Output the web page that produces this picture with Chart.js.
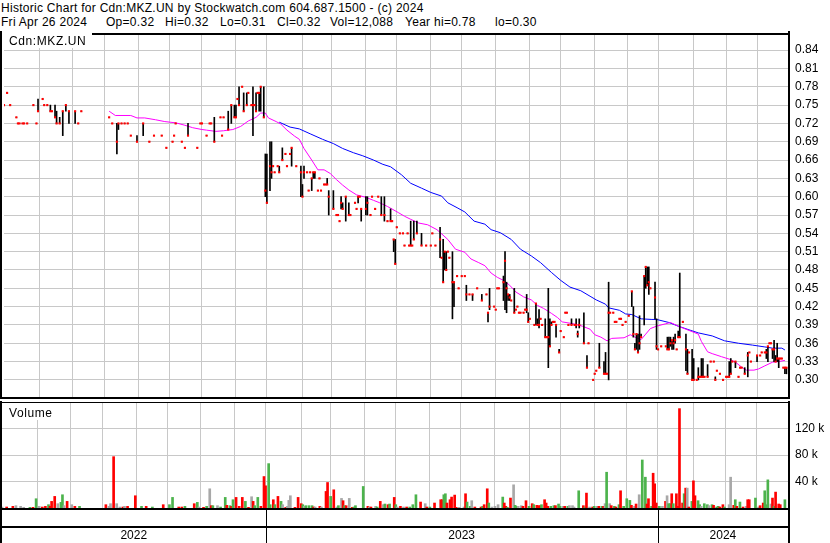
<!DOCTYPE html>
<html>
<head>
<meta charset="utf-8">
<script src="https://cdn.jsdelivr.net/npm/chart.js@4.4.1/dist/chart.umd.min.js"></script>
<style>
  body { margin: 0; background: #fff; }
  #wrap { position: relative; width: 830px; height: 543px; overflow: hidden;
          font-family: "Liberation Sans", Arial, sans-serif; font-size: 12px; color: #000; }
  .t { position: absolute; line-height: 14px; white-space: pre; letter-spacing: 0.28px; }
  canvas { position: absolute; left: 0; }
  #priceChart { top: 31px; width: 830px; height: 370px; }
  #volumeChart { top: 401px; width: 830px; height: 142px; }
  .box { position: absolute; background: #fff; }
  .lbl { position: absolute; line-height: 15px; white-space: pre; letter-spacing: 0.6px; }
</style>
</head>
<body>
<div id="wrap">
  <div class="t" style="left:1px;top:1px">Historic Chart for Cdn:MKZ.UN by Stockwatch.com 604.687.1500 - (c) 2024</div>
  <div class="t" style="left:1px;top:15px">Fri Apr 26 2024</div>
  <div class="t" style="left:106px;top:15px">Op=0.32</div>
  <div class="t" style="left:165px;top:15px">Hi=0.32</div>
  <div class="t" style="left:220px;top:15px">Lo=0.31</div>
  <div class="t" style="left:277px;top:15px">Cl=0.32</div>
  <div class="t" style="left:330px;top:15px">Vol=12,088</div>
  <div class="t" style="left:405px;top:15px">Year hi=0.78</div>
  <div class="t" style="left:495px;top:15px">lo=0.30</div>
  <canvas id="priceChart" width="830" height="370"></canvas>
  <canvas id="volumeChart" width="830" height="142"></canvas>
  <div class="box" style="left:2px;top:33px;width:90px;height:15px"></div>
  <div class="lbl" style="left:9px;top:34px">Cdn:MKZ.UN</div>
  <div class="box" style="left:2px;top:403px;width:58px;height:17px"></div>
  <div class="lbl" style="left:9px;top:406px">Volume</div>
</div>
<script>
// x positions are trading-day indexes, day 0 = first session shown (early May 2022)
const DAY_MAX = 507;
const monthStarts = [23, 44, 65, 87, 107, 128, 150, 170, 193, 212, 234, 254, 276, 296, 318, 340, 360, 382, 403, 423, 446, 467, 487];
const yearStarts = [0, 170, 423];
const yearLabels = ['2022', '2023', '2024'];

const priceTicks = [0.30, 0.33, 0.36, 0.39, 0.42, 0.45, 0.48, 0.51, 0.54, 0.57, 0.60, 0.63, 0.66, 0.69, 0.72, 0.75, 0.78, 0.81, 0.84];
const volTicks = [40, 80, 120];

// daily bars (high / low / close); single-price days have high = low = close
const barDay = [
  0, 2, 4, 8, 9, 10, 12, 13, 15, 19,
  21, 22, 25, 26, 28, 30, 31, 33, 34, 36,
  38, 40, 42, 46, 48, 50, 68, 70, 73, 74,
  76, 78, 80, 82, 86, 90, 94, 97, 102, 105,
  109, 110, 111, 115, 117, 119, 125, 127, 128, 131,
  133, 134, 136, 140, 141, 142, 145, 147, 149, 150,
  151, 152, 154, 155, 157, 158, 160, 161, 162, 163,
  164, 165, 166, 168, 169, 170, 172, 173, 174, 175,
  177, 178, 180, 182, 183, 185, 186, 189, 192, 193,
  194, 196, 197, 198, 199, 200, 201, 203, 204, 205,
  207, 208, 209, 210, 213, 215, 216, 217, 218, 219,
  221, 223, 224, 227, 228, 229, 230, 231, 234, 235,
  237, 238, 240, 242, 244, 246, 248, 250, 251, 252,
  253, 254, 256, 258, 259, 261, 262, 263, 264, 265,
  267, 270, 273, 276, 277, 279, 282, 283, 284, 285,
  286, 287, 288, 290, 291, 293, 294, 296, 298, 299,
  301, 303, 306, 309, 312, 313, 314, 317, 318, 319,
  320, 323, 324, 325, 326, 327, 328, 330, 331, 332,
  333, 334, 336, 337, 338, 339, 340, 343, 344, 345,
  346, 347, 348, 350, 351, 352, 353, 354, 355, 356,
  357, 359, 360, 362, 363, 364, 365, 367, 369, 370,
  371, 372, 375, 377, 378, 381, 382, 383, 385, 388,
  389, 390, 391, 392, 394, 395, 396, 398, 399, 400,
  402, 404, 406, 407, 408, 409, 410, 411, 412, 414,
  415, 416, 417, 418, 421, 422, 423, 425, 428, 429,
  430, 431, 432, 433, 434, 435, 436, 437, 439, 441,
  442, 443, 445, 446, 448, 449, 450, 451, 452, 453,
  455, 457, 459, 460, 461, 463, 465, 467, 468, 469,
  470, 471, 473, 475, 476, 477, 479, 481, 482, 483,
  487, 489, 490, 492, 493, 494, 495, 496, 497, 498,
  499, 500, 501, 502, 503, 504, 505, 506
];
const barHigh = [
  .75, .77, .75, .73, .72, .72, .72, .72, .72, .75,
  .72, .76, .76, .75, .75, .75, .74, .75, .74, .73,
  .74, .75, .74, .74, .72, .74, .73, .72, .72, .72,
  .72, .72, .72, .70, .70, .72, .69, .70, .70, .68,
  .69, .70, .72, .69, .68, .72, .68, .72, .72, .70,
  .72, .72, .73, .73, .70, .73, .74, .75, .75, .75,
  .76, .78, .78, .77, .77, .77, .75, .78, .75, .77,
  .77, .77, .78, .78, .67, .67, .69, .69, .65, .64,
  .65, .65, .68, .67, .65, .67, .68, .65, .65, .62,
  .65, .64, .61, .64, .63, .64, .64, .61, .63, .61,
  .62, .62, .63, .61, .61, .57, .57, .56, .60, .59,
  .60, .59, .57, .59, .58, .60, .60, .58, .60, .60,
  .57, .60, .58, .60, .60, .60, .56, .58, .56, .53,
  .53, .55, .54, .54, .52, .54, .52, .56, .52, .56,
  .56, .54, .52, .52, .54, .52, .55, .50, .53, .51,
  .51, .51, .50, .51, .46, .47, .45, .47, .47, .455,
  .44, .44, .45, .44, .44, .41, .45, .42, .415, .45,
  .45, .47, .51, .46, .44, .44, .43, .45, .415, .42,
  .41, .41, .41, .415, .44, .41, .40, .39, .425, .40,
  .415, .40, .39, .40, .37, .45, .40, .395, .395, .395,
  .39, .35, .38, .37, .41, .41, .39, .40, .39, .40,
  .38, .40, .41, .34, .36, .30, .31, .315, .36, .33,
  .345, .31, .46, .41, .41, .395, .395, .40, .40, .39,
  .395, .405, .445, .42, .36, .375, .375, .405, .375, .47,
  .485, .485, .485, .45, .46, .40, .35, .355, .355, .37,
  .37, .37, .365, .37, .375, .35, .38, .475, .395, .375,
  .35, .345, .35, .335, .30, .32, .305, .335, .335, .305,
  .325, .33, .33, .305, .315, .31, .30, .305, .305, .33,
  .335, .33, .33, .305, .32, .32, .32, .345, .345, .33,
  .34, .34, .345, .345, .35, .355, .36, .36, .35, .365,
  .34, .36, .335, .335, .335, .32, .32, .32
];
const barLow = [
  .75, .77, .75, .73, .72, .72, .72, .72, .72, .75,
  .72, .74, .76, .75, .75, .74, .74, .73, .72, .72,
  .70, .74, .72, .72, .72, .74, .73, .72, .67, .71,
  .72, .72, .72, .70, .69, .70, .69, .70, .70, .68,
  .69, .70, .72, .69, .68, .70, .68, .72, .72, .70,
  .72, .72, .69, .73, .70, .73, .71, .72, .73, .73,
  .76, .75, .78, .74, .75, .77, .75, .70, .75, .74,
  .77, .74, .74, .73, .60, .59, .61, .63, .65, .64,
  .65, .64, .66, .67, .65, .67, .65, .65, .60, .60,
  .63, .64, .61, .64, .61, .63, .63, .61, .63, .61,
  .62, .62, .62, .57, .58, .57, .57, .56, .58, .58,
  .56, .57, .57, .59, .58, .59, .60, .56, .57, .57,
  .57, .60, .58, .60, .57, .56, .56, .56, .56, .51,
  .49, .55, .54, .54, .52, .54, .52, .52, .52, .53,
  .54, .52, .52, .52, .54, .52, .50, .50, .46, .48,
  .48, .51, .50, .40, .42, .47, .45, .47, .47, .43,
  .44, .43, .45, .43, .44, .395, .415, .42, .415, .45,
  .45, .43, .415, .41, .43, .43, .43, .41, .415, .42,
  .41, .41, .41, .415, .41, .395, .40, .39, .39, .39,
  .385, .40, .39, .37, .37, .32, .355, .39, .395, .395,
  .37, .345, .38, .37, .41, .41, .39, .39, .39, .385,
  .37, .385, .36, .32, .36, .30, .31, .315, .32, .31,
  .31, .31, .30, .41, .41, .395, .395, .40, .40, .39,
  .395, .405, .42, .37, .35, .35, .345, .35, .37, .39,
  .45, .455, .44, .45, .40, .35, .35, .355, .355, .35,
  .35, .355, .35, .35, .36, .35, .37, .37, .395, .315,
  .31, .345, .30, .30, .30, .30, .305, .305, .305, .305,
  .305, .33, .33, .30, .315, .31, .30, .305, .305, .305,
  .31, .33, .32, .305, .32, .32, .31, .305, .345, .33,
  .33, .34, .345, .345, .335, .33, .36, .36, .335, .33,
  .33, .33, .32, .335, .335, .32, .31, .31
];
const barClose = [
  .75, .77, .75, .73, .72, .72, .72, .72, .72, .75,
  .72, .74, .76, .75, .75, .74, .74, .73, .72, .72,
  .74, .75, .74, .74, .72, .74, .73, .72, .69, .72,
  .72, .72, .72, .70, .69, .72, .69, .70, .70, .68,
  .69, .70, .72, .69, .68, .70, .68, .72, .72, .70,
  .72, .72, .69, .73, .70, .73, .71, .75, .73, .73,
  .76, .75, .78, .74, .75, .77, .75, .75, .75, .74,
  .77, .77, .78, .73, .61, .59, .65, .64, .65, .64,
  .65, .64, .66, .67, .65, .67, .68, .65, .64, .60,
  .64, .64, .61, .64, .63, .64, .64, .61, .63, .61,
  .62, .62, .62, .60, .58, .57, .57, .56, .59, .58,
  .60, .57, .57, .59, .58, .60, .60, .58, .58, .59,
  .57, .60, .58, .60, .57, .57, .56, .56, .56, .53,
  .49, .55, .54, .54, .52, .54, .52, .52, .52, .53,
  .54, .52, .52, .52, .54, .52, .53, .50, .46, .51,
  .48, .51, .50, .46, .46, .47, .45, .47, .47, .44,
  .44, .44, .45, .43, .44, .41, .42, .42, .415, .45,
  .45, .46, .495, .45, .44, .435, .43, .41, .415, .42,
  .41, .41, .41, .415, .415, .395, .40, .39, .425, .39,
  .39, .40, .39, .37, .37, .37, .355, .39, .395, .395,
  .39, .345, .38, .37, .41, .41, .39, .39, .39, .39,
  .375, .39, .36, .32, .36, .30, .31, .315, .32, .31,
  .31, .31, .41, .41, .41, .395, .395, .40, .40, .39,
  .395, .405, .445, .375, .35, .375, .345, .36, .37, .47,
  .485, .455, .46, .45, .435, .355, .35, .355, .355, .35,
  .35, .36, .365, .36, .365, .35, .37, .37, .395, .35,
  .31, .345, .30, .30, .30, .305, .305, .305, .305, .305,
  .305, .33, .33, .30, .315, .31, .30, .305, .305, .305,
  .31, .33, .33, .305, .32, .32, .31, .34, .345, .33,
  .34, .34, .345, .345, .345, .355, .36, .36, .35, .35,
  .33, .335, .335, .335, .335, .32, .32, .32
];

// moving averages
const shortMaDay = [68, 72, 82, 86, 91, 98, 104, 111, 117, 122, 128, 131, 137, 142, 148, 153, 158, 163, 166, 169,
  171, 176, 179, 183, 188, 191, 194, 199, 203, 207, 211, 215, 219, 223, 228, 234, 239, 243, 248, 255,
  259, 263, 268, 274, 280, 287, 292, 298, 302, 307, 311, 315, 319, 323, 327, 331, 336, 341, 345, 349,
  354, 358, 361, 368, 374, 379, 382, 386, 390, 393, 401, 405, 408, 412, 415, 418, 422, 428, 431, 436,
  441, 445, 449, 451, 455, 458, 464, 469, 473, 477, 480, 485, 488, 492, 497, 501, 505];
const shortMa = [.740, .733, .733, .729, .729, .726, .723, .721, .717, .713, .710, .709, .707, .708, .710, .715, .724, .730, .737, .737,
  .729, .723, .719, .709, .699, .694, .679, .660, .644, .644, .638, .628, .619, .611, .603, .599, .594, .590, .584, .574,
  .568, .563, .557, .554, .546, .530, .514, .509, .498, .492, .487, .475, .468, .463, .455, .444, .436, .431, .422, .417,
  .409, .402, .395, .392, .388, .383, .374, .370, .364, .368, .369, .374, .370, .366, .375, .384, .388, .392, .394, .388,
  .383, .379, .375, .363, .346, .343, .338, .334, .329, .321, .316, .316, .318, .323, .329, .330, .332];
const longMaDay = [178, 185, 191, 198, 206, 213, 219, 226, 232, 239, 245, 250, 257, 263, 270, 276, 283, 287, 293, 298,
  304, 311, 315, 321, 328, 334, 341, 347, 354, 360, 366, 373, 379, 383, 389, 391, 398, 402, 406, 412,
  419, 422, 430, 436, 443, 449, 458, 466, 475, 484, 492, 497, 503, 505];
const longMa = [.722, .714, .711, .703, .694, .687, .679, .672, .667, .660, .653, .649, .636, .622, .614, .607, .601, .590, .582, .575,
  .560, .555, .546, .541, .530, .514, .503, .492, .476, .463, .452, .446, .437, .431, .424, .418, .414, .408, .407, .400,
  .399, .399, .394, .388, .382, .377, .372, .364, .360, .357, .354, .352, .352, .349];

// volume in thousands; r = down day, g = up day, n = unchanged
const volDay = [
  0, 3, 7, 9, 12, 14, 18, 20, 22, 24, 26, 28, 30, 31, 32, 34, 36, 38, 39, 40,
  42, 45, 47, 50, 67, 69, 70, 72, 74, 76, 78, 79, 81, 86, 90, 93, 97, 104, 108, 110,
  114, 116, 118, 124, 126, 127, 130, 132, 134, 135, 136, 139, 141, 144, 145, 147, 148, 149, 151, 153,
  155, 157, 159, 161, 162, 163, 165, 167, 169, 170, 172, 173, 175, 176, 178, 180, 181, 183, 184, 185,
  186, 189, 191, 193, 194, 195, 196, 198, 200, 201, 202, 205, 206, 209, 210, 212, 214, 216, 217, 219,
  220, 221, 222, 224, 226, 227, 228, 233, 236, 237, 238, 241, 242, 244, 246, 247, 249, 250, 253, 254,
  255, 257, 259, 261, 263, 265, 267, 270, 273, 274, 276, 279, 283, 284, 285, 286, 287, 289, 290, 292,
  293, 295, 298, 299, 300, 302, 303, 305, 309, 310, 311, 313, 314, 316, 318, 320, 323, 324, 325, 326,
  328, 330, 331, 332, 333, 335, 336, 338, 340, 342, 343, 345, 346, 347, 348, 350, 351, 352, 354, 356,
  357, 359, 360, 362, 363, 365, 366, 368, 369, 372, 375, 376, 377, 379, 381, 382, 384, 385, 387, 388,
  389, 390, 392, 393, 395, 396, 398, 399, 401, 403, 405, 406, 408, 409, 411, 413, 415, 416, 417, 419,
  420, 421, 422, 424, 426, 428, 429, 430, 431, 432, 433, 435, 436, 437, 439, 440, 441, 442, 443, 445,
  446, 447, 449, 450, 451, 453, 455, 456, 458, 459, 461, 462, 463, 465, 466, 469, 470, 472, 473, 474,
  476, 478, 480, 481, 482, 486, 488, 489, 491, 492, 493, 494, 496, 497, 498, 499, 501, 502, 505
];
const volK = [
  1.5, 1.5, 2.5, 3.5, 2.5, 1, 1, 1, 14, 2.5, 1.5, 2.5, 5, 2.5, 10, 17.5, 6.5, 8.5, 20, 3.5,
  10, 5, 2.5, 2.5, 5, 2.5, 6.5, 77.5, 6.5, 1.5, 1.5, 2.5, 2.5, 18.5, 2.5, 2.5, 1.5, 5, 5, 16,
  1.5, 1.5, 2.5, 6.5, 8.5, 1.5, 1, 2.5, 29, 3.5, 3.5, 3.5, 1.5, 16, 4, 3.5, 2.5, 12.5, 16, 2.5,
  16, 10, 1, 17, 10, 3.5, 16, 2.5, 47.5, 33.5, 67, 5, 12.5, 5, 17.5, 10, 5, 1, 2.5, 11.5,
  18.5, 1, 16, 6.5, 5, 2.5, 3.5, 3.5, 3.5, 1.5, 1.5, 2.5, 1.5, 25, 38.5, 17.5, 27.5, 1.5, 3.5, 14.5,
  11, 3.5, 3.5, 14.5, 1, 1.5, 3.5, 32.5, 2.5, 1.5, 1.5, 2.5, 1.5, 10, 5, 6, 5, 6, 16, 5,
  1.5, 2.5, 1.5, 1.5, 1.5, 5, 20, 9, 6.5, 1.5, 1.5, 7.5, 12.5, 12.5, 20, 21.5, 7.5, 12.5, 16.5, 19.5,
  1, 1, 1.5, 21.5, 9, 2.5, 11, 1.5, 1.5, 2.5, 5, 29, 7.5, 1.5, 2.5, 5, 16.5, 7.5, 2.5, 1,
  15, 35, 4, 2.5, 2.5, 3.5, 2.5, 11, 2.5, 6.5, 5, 4, 3.5, 3.5, 5, 12.5, 7.5, 2.5, 2.5, 3.5,
  3.5, 6, 2.5, 2.5, 2.5, 2.5, 3.5, 3.5, 1.5, 26, 3.5, 1.5, 22.5, 1.5, 1.5, 2.5, 2.5, 2.5, 2.5, 2.5,
  6.5, 54, 6.5, 3.5, 2.5, 1.5, 5, 26, 2.5, 14, 11.5, 4, 2.5, 6, 20, 72.5, 46.5, 6, 14, 2.5,
  52.5, 36.5, 7.5, 2.5, 2.5, 10, 18.5, 6.5, 6.5, 21.5, 6.5, 21.5, 2.5, 150, 7.5, 21.5, 30, 30, 1.5, 10,
  41, 18.5, 11, 5, 2.5, 6.5, 5, 3.5, 5, 4, 1.5, 2.5, 1.5, 5, 1.5, 5, 46.5, 4, 12.5, 2.5,
  9, 1.5, 2.5, 12.5, 12.5, 15, 1.5, 3.5, 7.5, 26, 5, 42.5, 6, 15, 2.5, 24, 6, 5, 12.5
];
const volDir = [
  'n', 'r', 'r', 'n', 'n', 'n', 'g', 'r', 'g', 'n', 'r', 'r', 'g', 'r', 'r', 'r', 'n', 'g', 'g', 'n',
  'r', 'n', 'r', 'g', 'r', 'n', 'n', 'r', 'n', 'n', 'r', 'n', 'r', 'r', 'g', 'r', 'g', 'r', 'g', 'g',
  'r', 'r', 'g', 'r', 'g', 'n', 'r', 'g', 'n', 'r', 'g', 'n', 'g', 'g', 'r', 'g', 'r', 'g', 'r', 'r',
  'r', 'g', 'r', 'n', 'r', 'g', 'g', 'r', 'r', 'r', 'g', 'g', 'r', 'g', 'r', 'g', 'n', 'r', 'n', 'n',
  'n', 'r', 'r', 'r', 'g', 'n', 'g', 'g', 'g', 'r', 'n', 'r', 'n', 'r', 'r', 'g', 'r', 'n', 'g', 'n',
  'r', 'g', 'r', 'n', 'r', 'g', 'g', 'g', 'r', 'n', 'r', 'n', 'g', 'r', 'n', 'g', 'r', 'g', 'r', 'g',
  'n', 'r', 'n', 'r', 'g', 'g', 'g', 'r', 'n', 'r', 'g', 'r', 'r', 'r', 'g', 'g', 'r', 'r', 'r', 'r',
  'r', 'n', 'n', 'r', 'g', 'g', 'n', 'r', 'r', 'g', 'r', 'r', 'g', 'n', 'n', 'n', 'g', 'r', 'r', 'g',
  'r', 'n', 'g', 'g', 'n', 'n', 'r', 'r', 'g', 'r', 'g', 'r', 'r', 'r', 'g', 'r', 'r', 'r', 'g', 'g',
  'r', 'g', 'g', 'n', 'r', 'g', 'n', 'n', 'n', 'g', 'r', 'g', 'r', 'n', 'r', 'g', 'n', 'r', 'g', 'r',
  'n', 'g', 'n', 'r', 'g', 'r', 'g', 'r', 'g', 'g', 'g', 'r', 'n', 'r', 'n', 'g', 'g', 'r', 'r', 'g',
  'r', 'r', 'r', 'g', 'n', 'r', 'n', 'g', 'g', 'r', 'g', 'r', 'r', 'r', 'r', 'g', 'r', 'n', 'r', 'g',
  'r', 'r', 'g', 'g', 'n', 'g', 'g', 'n', 'g', 'r', 'g', 'g', 'r', 'r', 'g', 'n', 'n', 'r', 'g', 'r',
  'g', 'r', 'n', 'r', 'r', 'g', 'n', 'r', 'r', 'g', 'g', 'g', 'n', 'r', 'g', 'r', 'r', 'r', 'g'
];

const GRID = '#c8c8c8';
const RED = '#ff0000';
const DIR_COLORS = { r: '#ff0000', g: '#4cb34c', n: '#a8a8a8' };
const PRICE_MIN = 0.272;
const PRICE_MAX = 0.8648;
const VOL_MAX = 158.5;

Chart.defaults.font.family = '"Liberation Sans", Arial, sans-serif';
Chart.defaults.font.size = 12;
Chart.defaults.color = '#000';

// scales get no extra padding for their labels, so the plot area is exactly the layout box
const noPad = (s) => { s.paddingTop = 0; s.paddingBottom = 0; s.paddingLeft = 0; s.paddingRight = 0; };

const monthAxis = () => ({
  type: 'linear',
  min: 0,
  max: DAY_MAX,
  offset: false,
  grid: { color: GRID, drawTicks: false, offset: false },
  border: { display: false },
  ticks: { display: false },
  afterBuildTicks: (s) => { s.ticks = monthStarts.map(v => ({ value: v })); },
  afterFit: (s) => { s.height = 0; noPad(s); }
});

const rightAxis = (min, max, ticks, fmt) => ({
  position: 'right',
  min,
  max,
  grid: { color: GRID, drawTicks: false },
  border: { display: false },
  ticks: { padding: 7, autoSkip: false, callback: fmt },
  afterBuildTicks: (s) => { s.ticks = ticks.map(v => ({ value: v })); },
  afterFit: (s) => { s.width = 42; noPad(s); }
});

const commonOptions = {
  responsive: false,
  animation: false,
  devicePixelRatio: 1,
  events: [],
  plugins: { legend: { display: false }, tooltip: { enabled: false } }
};

// black frame round the price panel
const priceFrame = {
  id: 'priceFrame',
  afterDraw(chart) {
    const { ctx, chartArea: a } = chart;
    ctx.save();
    ctx.fillStyle = '#000';
    ctx.fillRect(0, a.top - 2, a.right + 2, 2);
    ctx.fillRect(0, a.bottom, a.right + 2, 2);
    ctx.fillRect(0, 0, 2, a.bottom + 2);
    ctx.fillRect(a.right, 0, 2, a.bottom + 2);
    ctx.restore();
  }
};

// frame of the volume panel plus the year band below it
const volumeFrame = {
  id: 'volumeFrame',
  afterDraw(chart) {
    const { ctx, chartArea: a, scales } = chart;
    const h = chart.height;
    const x = scales.x;
    ctx.save();
    ctx.fillStyle = '#000';
    ctx.fillRect(0, a.top - 1, a.right + 2, 1);
    ctx.fillRect(0, a.bottom, a.right + 2, 2);
    ctx.fillRect(0, a.bottom + 18, a.right + 2, 2);
    ctx.fillRect(0, 0, 2, h);
    ctx.fillRect(a.right, 0, 2, h);
    yearStarts.forEach((d, i) => {
      if (i > 0) ctx.fillRect(Math.round(x.getPixelForValue(d)), a.bottom, 1, h - a.bottom);
    });
    ctx.font = '12px "Liberation Sans", Arial, sans-serif';
    ctx.textAlign = 'center';
    ctx.textBaseline = 'alphabetic';
    yearLabels.forEach((t, i) => {
      const end = i + 1 < yearStarts.length ? yearStarts[i + 1] : DAY_MAX;
      const cx = (x.getPixelForValue(yearStarts[i]) + x.getPixelForValue(end)) / 2;
      ctx.fillText(t, cx, h - 4);
    });
    ctx.restore();
  }
};

const rangePts = barDay.map((d, i) => ({ x: d, y: [barLow[i], barHigh[i]] }));
const closePts = barDay.map((d, i) => ({ x: d, y: barClose[i] }));
const shortPts = shortMaDay.map((d, i) => ({ x: d, y: shortMa[i] }));
const longPts = longMaDay.map((d, i) => ({ x: d, y: longMa[i] }));

new Chart(document.getElementById('priceChart'), {
  type: 'bar',
  data: {
    datasets: [
      { type: 'scatter', data: closePts, pointStyle: 'rect', pointRadius: 1.5, backgroundColor: RED, borderWidth: 0, order: 0 },
      { type: 'bar', data: rangePts, backgroundColor: '#000', barThickness: 1, grouped: false, order: 1 },
      { type: 'line', data: shortPts, borderColor: '#ff00ff', borderWidth: 1, pointRadius: 0, tension: 0, order: 2 },
      { type: 'line', data: longPts, borderColor: '#0000ff', borderWidth: 1, pointRadius: 0, tension: 0, order: 3 }
    ]
  },
  options: {
    ...commonOptions,
    layout: { padding: { left: 2, top: 2, right: 0, bottom: 2 } },
    scales: {
      x: monthAxis(),
      y: rightAxis(PRICE_MIN, PRICE_MAX, priceTicks, v => v.toFixed(2))
    }
  },
  plugins: [priceFrame]
});

new Chart(document.getElementById('volumeChart'), {
  type: 'bar',
  data: {
    datasets: [{
      data: volDay.map((d, i) => ({ x: d, y: volK[i] })),
      backgroundColor: volDir.map(c => DIR_COLORS[c]),
      barThickness: 2,
      grouped: false
    }]
  },
  options: {
    ...commonOptions,
    layout: { padding: { left: 2, top: 2, right: 0, bottom: 35 } },
    scales: {
      x: monthAxis(),
      y: rightAxis(0, VOL_MAX, volTicks, v => v + ' k')
    }
  },
  plugins: [volumeFrame]
});
</script>
</body>
</html>
